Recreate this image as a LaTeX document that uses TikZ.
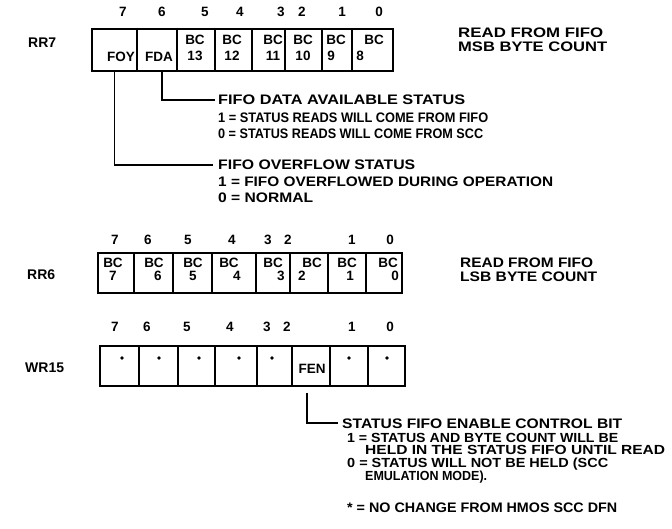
\documentclass[tikz,border=0pt]{standalone}
\usepackage{fontspec}
\setmainfont{Liberation Sans}
\usepackage{graphicx}
\newsavebox\fitbox
\newcommand\fitw[2]{\sbox\fitbox{#2}\pgfmathsetmacro\fitratio{#1/\wd\fitbox}\scalebox{\fitratio}[1]{\usebox\fitbox}}
\begin{document}
\begin{tikzpicture}[x=1pt,y=-1pt,
  cellbox/.style={draw, line width=1.6pt, inner sep=0pt},
  celltxt/.style={anchor=base, inner sep=0pt, font=\fontsize{13.5}{13.5}\selectfont\bfseries},
  bitnum/.style={anchor=base, inner sep=0pt, font=\fontsize{13.5}{13.5}\selectfont\bfseries},
  reglbl/.style={anchor=base west, inner sep=0pt, font=\fontsize{14}{14}\selectfont\bfseries},
  desc/.style={anchor=base west, inner sep=0pt, font=\fontsize{13.8}{13.8}\selectfont\bfseries},
  descs/.style={anchor=base west, inner sep=0pt, font=\fontsize{13.2}{13.2}\selectfont\bfseries},
  conn/.style={line width=1.8pt},
  dotmark/.style={circle, fill=black, inner sep=0pt, minimum size=3.6pt}]
\useasboundingbox (0,0) rectangle (672,529);

% ---------------- RR7 ----------------
\node[reglbl] (rr7) at (28,48) {RR7};
\foreach \n/\x in {7/123,6/162,5/205,4/240,3/281,2/302,1/342,0/379}
  \node[bitnum] (n7b\n) at (\x,16.8) {\n};
\node[cellbox, minimum width=45pt, minimum height=42pt] (r7b7) at (114.5,50) {};
\node[cellbox, minimum width=40pt, minimum height=42pt] (r7b6) at (157,50) {};
\node[cellbox, minimum width=38pt, minimum height=42pt] (r7b5) at (196,50) {};
\node[cellbox, minimum width=37pt, minimum height=42pt] (r7b4) at (233.5,50) {};
\node[cellbox, minimum width=33pt, minimum height=42pt] (r7b3) at (268.5,50) {};
\node[cellbox, minimum width=37pt, minimum height=42pt] (r7b2) at (303.5,50) {};
\node[cellbox, minimum width=30pt, minimum height=42pt] (r7b1) at (337,50) {};
\node[cellbox, minimum width=41pt, minimum height=42pt] (r7b0) at (372.5,50) {};
\node[celltxt] (foy) at (121,61.3) {FOY};
\node[celltxt] (fda) at (159,61.3) {FDA};
\foreach \k/\bx/\nx/\v in {5/195/195/13,4/232/232/12,3/273/273/11,2/303/303/10,1/336/331/9,0/374/360/8}{
  \node[celltxt] (t7a\k) at (\bx,44.6) {BC};
  \node[celltxt] (t7b\k) at (\nx,60.6) {\v};
}
\node[desc] (a1) at (458,38) {\fitw{145}{READ FROM FIFO}};
\node[desc] (a2) at (458,52) {\fitw{149}{MSB BYTE COUNT}};
\node[desc] (b1) at (218,105) {\fitw{247}{FIFO DATA AVAILABLE STATUS}};
\node[desc] (b2) at (218,123) {\fitw{270}{1 = STATUS READS WILL COME FROM FIFO}};
\node[desc] (b3) at (218,139) {\fitw{265}{0 = STATUS READS WILL COME FROM SCC}};
\node[desc] (c1) at (218,170) {\fitw{197}{FIFO OVERFLOW STATUS}};
\node[desc] (c2) at (218,187) {\fitw{335}{1 = FIFO OVERFLOWED DURING OPERATION}};
\node[desc] (c3) at (218,203) {\fitw{95}{0 = NORMAL}};
\draw[conn] ([xshift=5pt]r7b6.south) |- ([xshift=-3pt]b1.west);
\draw[conn] (r7b7.south) |- ([xshift=-5pt]c1.west);

% ---------------- RR6 ----------------
\node[reglbl] (rr6) at (27,280) {RR6};
\foreach \n/\x in {7/115,6/148,5/188,4/232,3/268,2/288,1/352,0/390}
  \node[bitnum] (n6b\n) at (\x,244.8) {\n};
\node[cellbox, minimum width=36pt, minimum height=40pt] (r6b7) at (116,273) {};
\node[cellbox, minimum width=39pt, minimum height=40pt] (r6b6) at (153.5,273) {};
\node[cellbox, minimum width=39pt, minimum height=40pt] (r6b5) at (192.5,273) {};
\node[cellbox, minimum width=44pt, minimum height=40pt] (r6b4) at (234,273) {};
\node[cellbox, minimum width=34pt, minimum height=40pt] (r6b3) at (273,273) {};
\node[cellbox, minimum width=38pt, minimum height=40pt] (r6b2) at (309,273) {};
\node[cellbox, minimum width=38pt, minimum height=40pt] (r6b1) at (347,273) {};
\node[cellbox, minimum width=36pt, minimum height=40pt] (r6b0) at (384,273) {};
\foreach \k/\bx/\nx in {7/113/113,6/154/158,5/193/193,4/229/237,3/273/281,2/312/302,1/347/350,0/388/395}{
  \node[celltxt] (t6a\k) at (\bx,267.6) {BC};
  \node[celltxt] (t6b\k) at (\nx,280.6) {\k};
}
\node[desc] (d1) at (460,268) {\fitw{133}{READ FROM FIFO}};
\node[desc] (d2) at (460,282) {\fitw{137}{LSB BYTE COUNT}};

% ---------------- WR15 ----------------
\node[reglbl] (wr15) at (25,372) {WR15};
\foreach \n/\x in {7/115,6/147,5/187,4/230,3/267,2/287,1/352,0/390}
  \node[bitnum] (n15b\n) at (\x,331.8) {\n};
\node[cellbox, minimum width=39pt, minimum height=40pt] (w15b7) at (119.5,366) {};
\node[cellbox, minimum width=39pt, minimum height=40pt] (w15b6) at (158.5,366) {};
\node[cellbox, minimum width=37pt, minimum height=40pt] (w15b5) at (196.5,366) {};
\node[cellbox, minimum width=42pt, minimum height=40pt] (w15b4) at (236,366) {};
\node[cellbox, minimum width=35pt, minimum height=40pt] (w15b3) at (274.5,366) {};
\node[cellbox, minimum width=38pt, minimum height=40pt] (w15b2) at (311,366) {};
\node[cellbox, minimum width=38pt, minimum height=40pt] (w15b1) at (349,366) {};
\node[cellbox, minimum width=37pt, minimum height=40pt] (w15b0) at (386.5,366) {};
\foreach \k/\x in {7/122,6/159,5/199,4/239,3/272,1/349,0/387}
  \node[dotmark] (dot\k) at (\x,358) {};
\node[celltxt] (fen) at (312,373.8) {FEN};
\node[desc] (e1) at (342,428) {\fitw{280}{STATUS FIFO ENABLE CONTROL BIT}};
\node[descs] (e2) at (347,442.5) {\fitw{271}{1 = STATUS AND BYTE COUNT WILL BE}};
\node[descs] (e3) at (365,454.5) {\fitw{300}{HELD IN THE STATUS FIFO UNTIL READ}};
\node[descs] (e4) at (347,467.5) {\fitw{261}{0 = STATUS WILL NOT BE HELD (SCC}};
\node[descs] (e5) at (365,480.5) {\fitw{122}{EMULATION MODE).}};
\node[desc] (e6) at (347,512) {\fitw{270}{* = NO CHANGE FROM HMOS SCC DFN}};
\draw[conn] ([xshift=-4pt,yshift=-6pt]w15b2.south) |- ([xshift=-4pt]e1.west);
\end{tikzpicture}
\end{document}
